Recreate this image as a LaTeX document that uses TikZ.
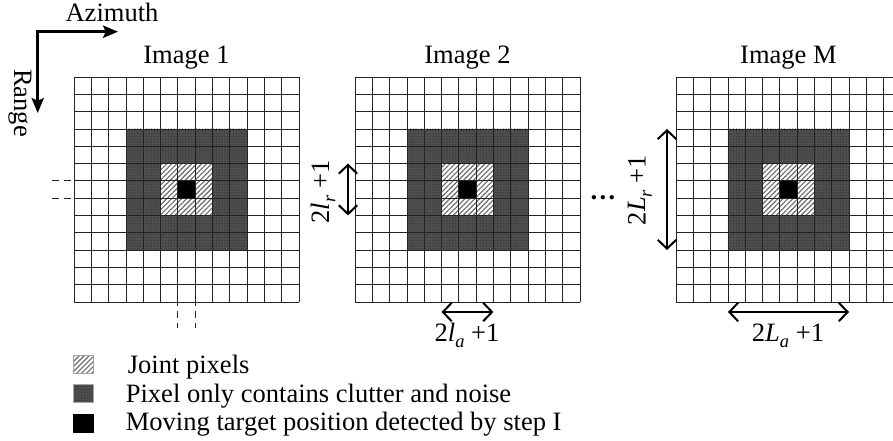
\documentclass[tikz,border=0pt]{standalone}
\usepackage{fontspec}
\setmainfont{Liberation Serif}
\usepackage{tikz}
\usetikzlibrary{arrows.meta,patterns.meta,positioning}
\definecolor{cluttergray}{RGB}{78,78,78}
\definecolor{hatchgray}{RGB}{105,105,105}
\definecolor{gridgray}{RGB}{35,35,35}
\newcommand{\cellsz}{17.3}
\newcommand{\subidx}[1]{\raisebox{-0.5ex}{\fontsize{10.5}{12}\selectfont\textit{#1}}}

\begin{document}
\begin{tikzpicture}[x=0.02cm, y=-0.02cm,
    font=\fontsize{15.1}{17}\selectfont,
    cellline/.style={draw=gridgray, line width=0.45pt},
    clutter/.style={preaction={fill=cluttergray}, pattern={Dots[distance=1.6pt,radius=0.35pt]}, pattern color=black!80},
    joint/.style={preaction={fill=white}, pattern={Lines[angle=45,distance=2pt,line width=0.65pt]}, pattern color=hatchgray},
    target/.style={fill=black},
    axisarrow/.style={line width=1.4pt, {Stealth[length=8.5pt,width=7pt,inset=1.5pt]}-{Stealth[length=8.5pt,width=7pt,inset=1.5pt]}},
    sizearrow/.style={line width=1.15pt, {Straight Barb[length=5pt,width=10.5pt]}-{Straight Barb[length=5pt,width=10.5pt]}},
    guide/.style={dash pattern=on 4pt off 2.8pt, line width=0.65pt, draw=gridgray},
    legsym/.style={minimum width=11.3pt, minimum height=10.2pt, inner sep=0pt, draw=gray!70, line width=0.4pt}]

    \useasboundingbox (0,0) rectangle (893,440);
    \clip (0,0) rectangle (893,440);

    % Azimuth / Range axes
    \coordinate (axis-o) at (37.7,31.7);
    \coordinate (az-end) at (118,31.7);
    \coordinate (rg-end) at (37.7,113);
    \draw[axisarrow] (az-end) -- (axis-o) -- (rg-end);
    \node[anchor=base] (az-lbl) at (112,21.5) {Azimuth};
    \node[rotate=-90] (rg-lbl) at (20,103) {Range};

    % The M images: 13 x 13 pixels each
    \foreach \xo/\lab/\nm in {74/1/one,355/2/two,676/M/em} {
        \begin{scope}[shift={(\xo,77)}]
            \path[clutter] (3*\cellsz,3*\cellsz) rectangle (10*\cellsz,10*\cellsz);
            \path[joint] (5*\cellsz,5*\cellsz) rectangle (8*\cellsz,8*\cellsz);
            \path[target] (6*\cellsz,6*\cellsz) rectangle (7*\cellsz,7*\cellsz);
            \foreach \i in {0,...,13} {
                \draw[cellline] (\i*\cellsz,0) -- (\i*\cellsz,13*\cellsz);
                \draw[cellline] (0,\i*\cellsz) -- (13*\cellsz,\i*\cellsz);
            }
            \node[anchor=base] (title-\nm) at (6.5*\cellsz,-14) {Image \lab};
        \end{scope}
    }

    % dashed guides through the target pixel (image 1)
    \coordinate (gh1-a) at (52,180.8);  \coordinate (gh1-b) at (160.5,180.8);
    \coordinate (gh2-a) at (52,198.1);  \coordinate (gh2-b) at (160.5,198.1);
    \coordinate (gv1-a) at (177.8,215.4); \coordinate (gv1-b) at (177.8,328);
    \coordinate (gv2-a) at (195.1,215.4); \coordinate (gv2-b) at (195.1,328);
    \draw[guide] (gh1-a) -- (gh1-b);
    \draw[guide] (gh2-a) -- (gh2-b);
    \draw[guide] (gv1-a) -- (gv1-b);
    \draw[guide] (gv2-a) -- (gv2-b);

    % window sizes, image 2
    \coordinate (lr-top) at (348,163.5);
    \coordinate (lr-bot) at (348,215.4);
    \draw[sizearrow] (lr-top) -- (lr-bot);
    \node[rotate=90] (lr-lbl) at (323,192) {2\textit{l}\subidx{r} +1};
    \coordinate (la-left) at (441.5,312);
    \coordinate (la-right) at (493.4,312);
    \draw[sizearrow] (la-left) -- (la-right);
    \node[anchor=base] (la-lbl) at (467,341) {2\textit{l}\subidx{a} +1};

    \node[anchor=base, font=\fontsize{15.1}{17}\selectfont\bfseries] (dots) at (603,199) {\dots};

    % window sizes, image M
    \coordinate (Lr-top) at (667,128.9);
    \coordinate (Lr-bot) at (667,250);
    \draw[sizearrow] (Lr-top) -- (Lr-bot);
    \node[rotate=90] (Lr-lbl) at (640,190) {2\textit{L}\subidx{r} +1};
    \coordinate (La-left) at (727.9,312);
    \coordinate (La-right) at (849,312);
    \draw[sizearrow] (La-left) -- (La-right);
    \node[anchor=base] (La-lbl) at (788,341) {2\textit{L}\subidx{a} +1};

    % legend
    \node[legsym, joint] (sym-joint) at (83,364) {};
    \node[legsym, clutter] (sym-clutter) at (83,393) {};
    \node[legsym, target, draw=black] (sym-target) at (83,423) {};
    \node[anchor=base west, inner sep=0pt] (leg-joint) at (127.5,373) {Joint pixels};
    \node[anchor=base west, inner sep=0pt] (leg-clutter) at (125.5,402) {Pixel only contains clutter and noise};
    \node[anchor=base west, inner sep=0pt] (leg-target) at (125.5,430) {Moving target position detected by step I};
\end{tikzpicture}
\end{document}
